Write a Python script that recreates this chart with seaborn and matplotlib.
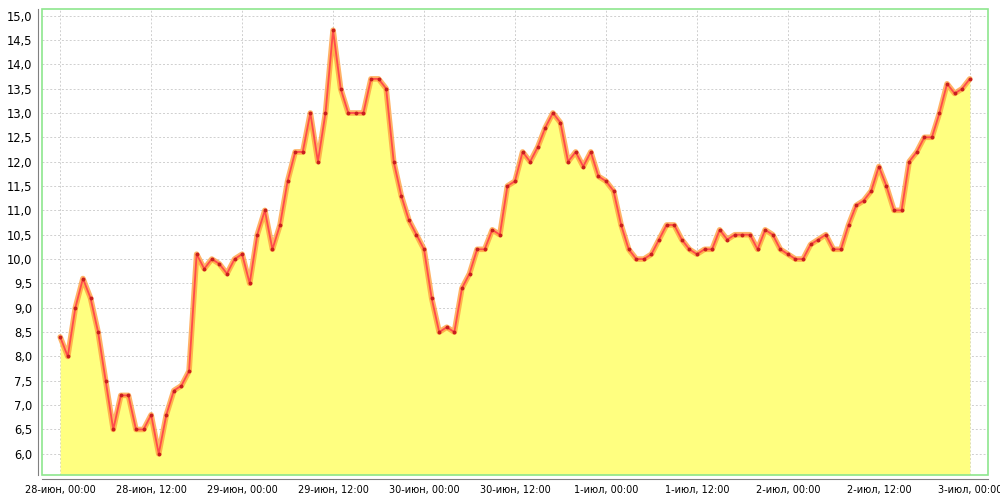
import pandas as pd
import numpy as np
import matplotlib
matplotlib.use("Agg")
import matplotlib.pyplot as plt
import seaborn as sns
from matplotlib.patches import Rectangle
from matplotlib.ticker import FuncFormatter, MultipleLocator
from matplotlib.transforms import ScaledTranslation

# hourly readings, 28 June 00:00 .. 3 July 00:00
start_time = "2024-06-28 00:00"
values = [
    8.4, 8.0, 9.0, 9.6, 9.2, 8.5, 7.5, 6.5, 7.2, 7.2, 6.5, 6.5,
    6.8, 6.0, 6.8, 7.3, 7.4, 7.7, 10.1, 9.8, 10.0, 9.9, 9.7, 10.0,
    10.1, 9.5, 10.5, 11.0, 10.2, 10.7, 11.6, 12.2, 12.2, 13.0, 12.0, 13.0,
    14.7, 13.5, 13.0, 13.0, 13.0, 13.7, 13.7, 13.5, 12.0, 11.3, 10.8, 10.5,
    10.2, 9.2, 8.5, 8.6, 8.5, 9.4, 9.7, 10.2, 10.2, 10.6, 10.5, 11.5,
    11.6, 12.2, 12.0, 12.3, 12.7, 13.0, 12.8, 12.0, 12.2, 11.9, 12.2, 11.7,
    11.6, 11.4, 10.7, 10.2, 10.0, 10.0, 10.1, 10.4, 10.7, 10.7, 10.4, 10.2,
    10.1, 10.2, 10.2, 10.6, 10.4, 10.5, 10.5, 10.5, 10.2, 10.6, 10.5, 10.2,
    10.1, 10.0, 10.0, 10.3, 10.4, 10.5, 10.2, 10.2, 10.7, 11.1, 11.2, 11.4,
    11.9, 11.5, 11.0, 11.0, 12.0, 12.2, 12.5, 12.5, 13.0, 13.6, 13.4, 13.5,
    13.7,
]
tick_labels = [
    "28-июн, 00:00", "28-июн, 12:00", "29-июн, 00:00", "29-июн, 12:00",
    "30-июн, 00:00", "30-июн, 12:00", "1-июл, 00:00", "1-июл, 12:00",
    "2-июл, 00:00", "2-июл, 12:00", "3-июл, 00:00",
]

df = pd.DataFrame({
    "time": pd.date_range(start_time, periods=len(values), freq="h"),
    "value": values,
})
tick_times = pd.date_range(start_time, periods=len(tick_labels), freq="12h")

sns.set_style("white")
plt.rcParams["font.family"] = ["DejaVu Sans"]

fig = plt.figure(figsize=(10, 5), dpi=100)
ax = fig.add_axes([0.042, 0.05, 0.946, 0.932])

# axis ranges with small margins like the original
span = df["time"].iloc[-1] - df["time"].iloc[0]
ax.set_xlim(df["time"].iloc[0] - span * 0.02, df["time"].iloc[-1] + span * 0.02)
vmin, vmax = min(values), max(values)
pad = (vmax - vmin) * 0.05
ax.set_ylim(vmin - pad, vmax + pad)

ax.fill_between(df["time"], df["value"], vmin - pad, color="#FFFF80", zorder=1, linewidth=0)
sns.lineplot(data=df, x="time", y="value", ax=ax, color="#FFA040", alpha=0.8,
             linewidth=4, zorder=3)
sns.lineplot(data=df, x="time", y="value", ax=ax, color="#FF4A4A", linewidth=1.3,
             marker="o", markersize=2.8, markeredgewidth=0, markerfacecolor="#C81E1E",
             zorder=4)

# grid
ax.grid(True, color="#CFCFCF", linestyle=(0, (2, 2)), linewidth=0.7)
ax.set_axisbelow(True)

ax.yaxis.set_major_locator(MultipleLocator(0.5))
ax.yaxis.set_major_formatter(FuncFormatter(lambda v, _: f"{v:.1f}".replace(".", ",")))
ax.set_xticks(tick_times)
ax.set_xticklabels(tick_labels)
ax.set_xlabel("")
ax.set_ylabel("")
ax.tick_params(axis="both", colors="#555555", length=2, width=0.8,
               pad=2, direction="out")
ax.tick_params(axis="x", labelsize=7.0, labelcolor="black")
ax.tick_params(axis="y", labelsize=8.3, labelcolor="black")

# keep the last date label inside the picture
last = ax.get_xticklabels()[-1]
last.set_transform(last.get_transform() + ScaledTranslation(-3 / 100, 0, fig.dpi_scale_trans))

for side in ["top", "right"]:
    ax.spines[side].set_visible(False)
for side in ["left", "bottom"]:
    ax.spines[side].set_color("#808080")
    ax.spines[side].set_linewidth(0.8)
    ax.spines[side].set_position(("outward", 3))

# green plot border
ax.add_patch(Rectangle((0, 0), 1, 1, transform=ax.transAxes, fill=False,
                       edgecolor="#8EE68E", linewidth=1.2, zorder=5, clip_on=False))

fig.savefig("out.png", dpi=100)
